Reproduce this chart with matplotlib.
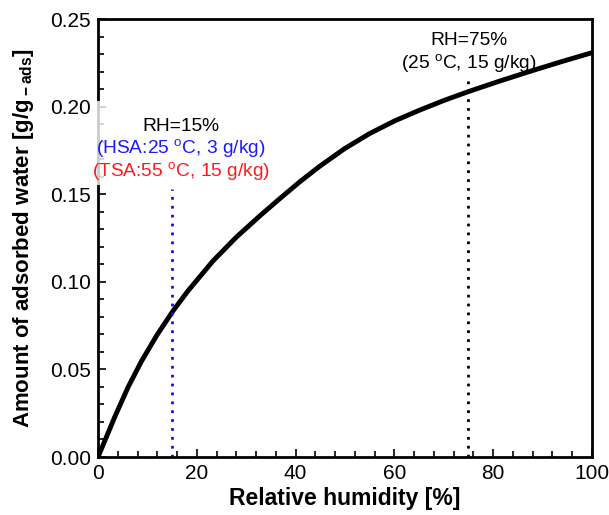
import numpy as np
import matplotlib.pyplot as plt

plt.rcParams['font.family'] = ['Liberation Sans', 'DejaVu Sans']
plt.rcParams['mathtext.fontset'] = 'custom'
plt.rcParams['mathtext.rm'] = 'Liberation Sans'
plt.rcParams['mathtext.bf'] = 'Liberation Sans:bold'

# isotherm
rh = [0, 3.4, 6.1, 8.8, 11.9, 15.2, 18.2, 23.3, 28, 32.7, 36.8, 40.8, 44.8,
      49.9, 54.9, 60, 65.1, 70, 75, 81, 87.3, 93.5, 100]
water = [0.0, 0.023, 0.040, 0.0547, 0.0695, 0.0835, 0.0948, 0.112, 0.1255,
         0.1375, 0.1475, 0.157, 0.1658, 0.176, 0.1845, 0.1918, 0.198,
         0.2035, 0.2086, 0.2143, 0.2200, 0.2254, 0.2308]

# marker lines (rh, top)
rh_low, top_low = 15, 0.153
rh_high, top_high = 75, 0.215

fig = plt.figure(figsize=(6.09, 5.15), dpi=100)
ax = fig.add_axes([0.161, 0.1126, 0.811, 0.8504])

ax.plot(rh, water, color='black', lw=3.5, solid_joinstyle='round')
ax.plot([rh_low, rh_low], [0, top_low], color='#1010ee', lw=2, ls=(0, (1, 2.2)))
ax.plot([rh_high, rh_high], [0, top_high], color='black', lw=2, ls=(0, (1, 2.2)))

# faint white box behind the left annotation
ax.add_patch(plt.Rectangle((-0.8, 0.155), 39.5, 0.048, facecolor='white',
                           edgecolor='none', alpha=0.8, zorder=4, clip_on=False))
ax.text(16.8, 0.1885, 'RH=15%', ha='center', va='center', fontsize=13.8, zorder=6)
ax.text(16.8, 0.1758, '(HSA:25 $^{\\rm o}$C, 3 g/kg)', ha='center', va='center',
        fontsize=13.8, color='#1a1aff', zorder=6)
ax.text(16.8, 0.1628, '(TSA:55 $^{\\rm o}$C, 15 g/kg)', ha='center', va='center',
        fontsize=13.8, color='#ff1a1a', zorder=6)

ax.text(75, 0.2375, 'RH=75%', ha='center', va='center', fontsize=13.8)
ax.text(75, 0.2248, '(25 $^{\\rm o}$C, 15 g/kg)', ha='center', va='center', fontsize=13.8)

ax.set_xlim(0, 100)
ax.set_ylim(0, 0.25)
ax.set_xticks([0, 20, 40, 60, 80, 100])
ax.set_yticks([0, 0.05, 0.10, 0.15, 0.20, 0.25])
ax.set_yticklabels(['0.00', '0.05', '0.10', '0.15', '0.20', '0.25'])
ax.set_xticks(np.arange(0, 101, 4), minor=True)
ax.set_yticks(np.arange(0, 0.251, 0.01), minor=True)
ax.tick_params(which='both', direction='in', top=False, right=False,
               labelsize=15, width=1.2)
ax.tick_params(which='major', length=6, pad=5)
ax.tick_params(which='minor', length=4)
for s in ax.spines.values():
    s.set_linewidth(2)

ax.set_xlabel('Relative humidity [%]', fontsize=16.5, fontweight='bold', labelpad=3)
ax.set_ylabel('Amount of adsorbed water [g/g$_{\\bf -ads}$]', fontsize=16,
              fontweight='bold', labelpad=10)

fig.savefig('out.png', dpi=100)
